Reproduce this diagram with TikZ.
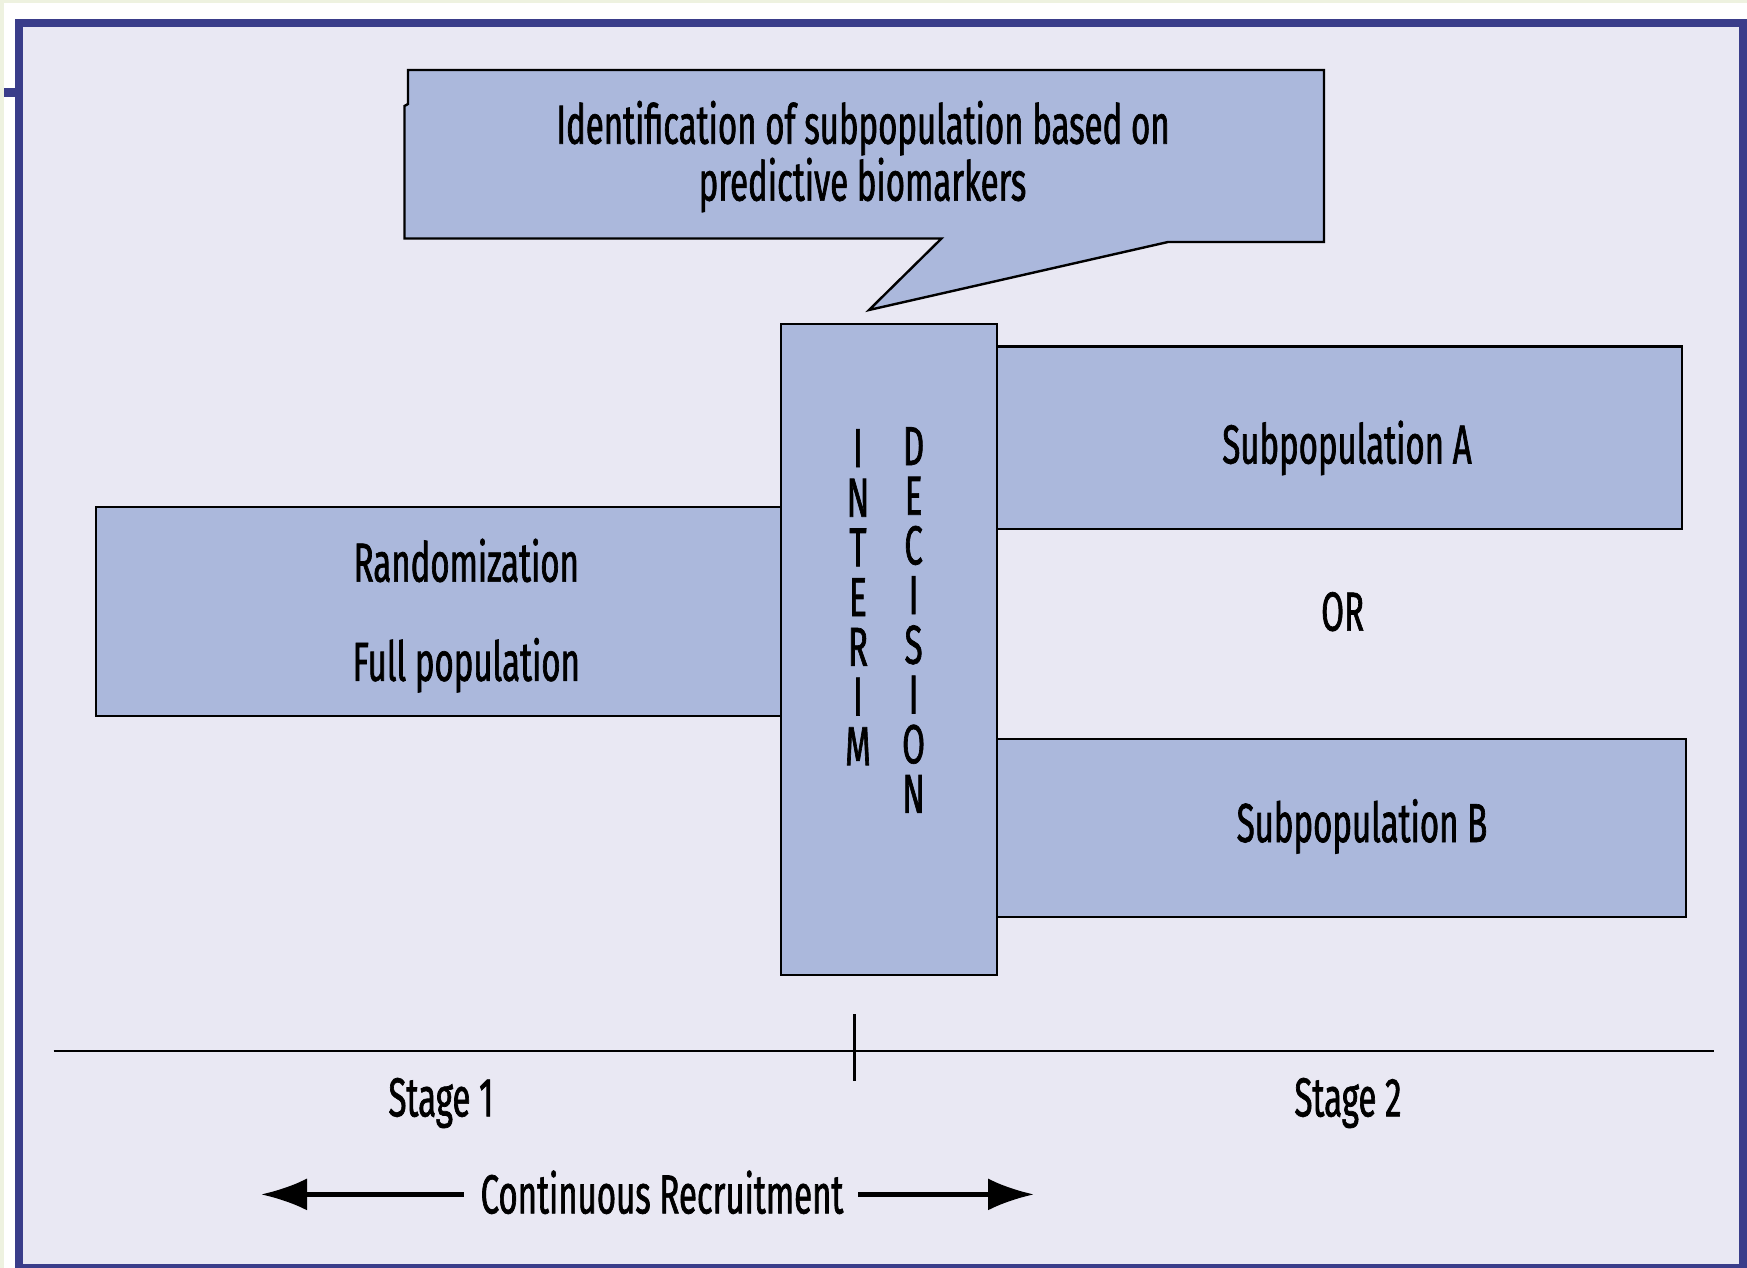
\documentclass[tikz,border=0pt]{standalone}
\usepackage{fontspec}
\setmainfont{Fira Sans}[FakeStretch=0.6,FakeBold=1.2]
\usetikzlibrary{arrows.meta}
\definecolor{framefill}{HTML}{E9E8F3}
\definecolor{boxfill}{HTML}{ABB8DC}
\definecolor{frameblue}{HTML}{3A3D8A}
\definecolor{cream}{HTML}{EEF2E0}
\begin{document}
\begin{tikzpicture}[x=1pt,y=-1pt,
  box/.style={draw=black, line width=2.4pt, fill=boxfill, inner sep=0pt, outer sep=0pt},
  lbl/.style={font=\fontsize{55}{60}\selectfont, anchor=base, inner sep=0pt},
  rule/.style={draw=black, line width=2pt},
  bigarrow/.style={draw=black, line width=4.5pt, -{Latex[length=46pt,width=32pt]}}]
\useasboundingbox (0,0) rectangle (1747,1268);
\fill[white] (0,0) rectangle (1747,1268);
\fill[cream] (0,0) rectangle (1747,3);
\fill[cream] (0,0) rectangle (4,1268);
\draw[frameblue, line width=8pt, fill=framefill] (19,23.5) rectangle (1743,1268);
\fill[frameblue] (4,88) rectangle (16,97);
% callout
\draw[line width=2.4pt, fill=boxfill, line join=miter]
  (408,70) -- (1324,70) -- (1324,242) -- (1168,242) -- (869,310) -- (941.5,238.5)
  -- (404.5,238.5) -- (404.5,106) -- (408,104) -- cycle;
\node[lbl] (id1) at (863,143.7) {Identification of subpopulation based on};
\node[lbl] (id2) at (862.5,200.6) {predictive biomarkers};
% boxes
\node[box, minimum width=685pt, minimum height=209pt] (rand) at (438.5,611.5) {};
\node[box, minimum width=216pt, minimum height=651pt] (interim) at (889,649.5) {};
\node[box, minimum width=685pt, minimum height=182.5pt] (subA) at (1339.5,437.75) {};
\node[box, minimum width=689pt, minimum height=178pt] (subB) at (1341.5,828) {};
\node[lbl] (randtxt) at (466.3,581.6) {Randomization};
\node[lbl] (fulltxt) at (466.3,680.8) {Full population};
\node[lbl] (subAtxt) at (1347,463.5) {Subpopulation A};
\node[lbl] (ortxt) at (1342.6,630.6) {OR};
\node[lbl] (subBtxt) at (1362,842) {Subpopulation B};
\foreach \ch [count=\i from 0] in {I,N,T,E,R,I,M}
  \node[lbl] (int\i) at (858,467+49.7*\i) {\ch};
\foreach \ch [count=\i from 0] in {D,E,C,I,S,I,O,N}
  \node[lbl] (dec\i) at (913.6,465+49.7*\i) {\ch};
% axis
\coordinate (axL) at (53.5,1051);
\coordinate (axR) at (1713.6,1051);
\draw[rule] (axL) -- (axR);
\coordinate (tkT) at (854.6,1014);
\coordinate (tkB) at (854.6,1081);
\draw[draw=black, line width=3.5pt] (tkT) -- (tkB);
\node[lbl] (stage1) at (441,1116.4) {Stage 1};
\node[lbl] (stage2) at (1348,1116.4) {Stage 2};
% recruitment
\node[lbl] (recruit) at (662,1213.4) {Continuous Recruitment};
\coordinate (arrLs) at (463.5,1194.4);
\coordinate (arrLe) at (261,1194.4);
\coordinate (arrRs) at (858,1194.4);
\coordinate (arrRe) at (1034,1194.4);
\draw[bigarrow] (arrLs) -- (arrLe);
\draw[bigarrow] (arrRs) -- (arrRe);
\end{tikzpicture}
\end{document}
